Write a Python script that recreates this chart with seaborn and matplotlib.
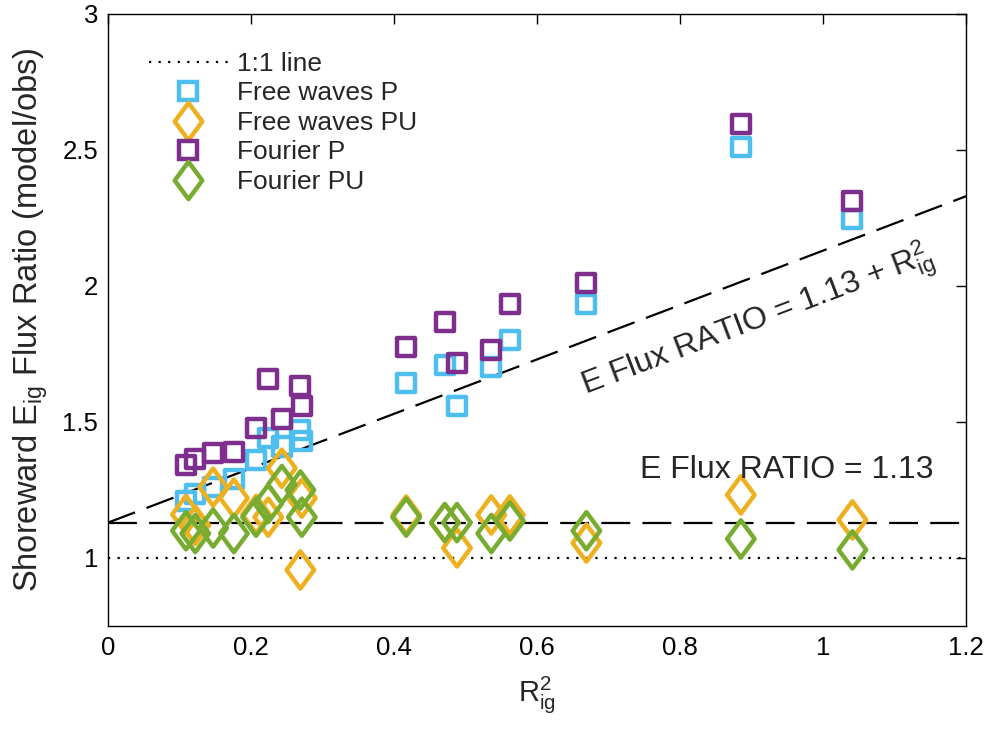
import matplotlib
matplotlib.use("Agg")
import matplotlib.pyplot as plt
import seaborn as sns
import numpy as np
from matplotlib.path import Path
from matplotlib.lines import Line2D

# ---- data ----
r2 = [0.109, 0.122, 0.147, 0.176, 0.207, 0.224, 0.243, 0.269, 0.271,
      0.417, 0.471, 0.488, 0.536, 0.562, 0.669, 0.885, 1.041]
free_p = [1.21, 1.235, 1.26, 1.29, 1.36, 1.44, 1.41, 1.47, 1.43,
          1.643, 1.710, 1.559, 1.702, 1.801, 1.934, 2.511, 2.246]
free_pu = [1.16, 1.12, 1.26, 1.22, 1.16, 1.15, 1.33, 0.956, 1.22,
           1.158, 1.129, 1.037, 1.158, 1.158, 1.055, 1.232, 1.140]
four_p = [1.342, 1.364, 1.386, 1.390, 1.478, 1.658, 1.511, 1.632, 1.559,
          1.776, 1.868, 1.717, 1.765, 1.934, 2.011, 2.596, 2.312]
four_pu = [1.10, 1.09, 1.11, 1.09, 1.15, 1.20, 1.27, 1.25, 1.15,
           1.15, 1.13, 1.13, 1.09, 1.136, 1.10, 1.07, 1.03]
const_ratio = 1.13
x_ticks = [0, 0.2, 0.4, 0.6, 0.8, 1.0, 1.2]
x_ticklabels = ["0", "0.2", "0.4", "0.6", "0.8", "1", "1.2"]
y_ticks = [1, 1.5, 2, 2.5, 3]
y_ticklabels = ["1", "1.5", "2", "2.5", "3"]

c_blue = "#4DBEEE"
c_orange = "#EDB120"
c_purple = "#7E2F8E"
c_green = "#77AC30"

sns.set_style("white")
plt.rcParams["font.family"] = ["Liberation Sans", "DejaVu Sans"]
plt.rcParams["mathtext.fontset"] = "custom"
plt.rcParams["mathtext.rm"] = "Liberation Sans"
plt.rcParams["mathtext.it"] = "Liberation Sans"

diamond = Path([(0, 0.5), (0.37, 0), (0, -0.5), (-0.37, 0), (0, 0.5)],
               [Path.MOVETO, Path.LINETO, Path.LINETO, Path.LINETO, Path.CLOSEPOLY])

fig = plt.figure(figsize=(9.92, 7.33), dpi=100)
ax = fig.add_axes([0.1089, 0.146, 0.865, 0.835])

dot = (1.0, 3.3)
dash = (13, 5.5)
# lines
ax.axhline(1.0, color="black", lw=1.6, dashes=dot)
ax.axhline(const_ratio, color="black", lw=1.6, dashes=dash)
xl = np.array([0, 1.2])
ax.plot(xl, const_ratio + xl, color="black", lw=1.6, dashes=dash)

sq_s = 170
dm_s = 720
lw = 3.2
sns.scatterplot(x=r2, y=free_p, marker="s", s=sq_s, fc="none", ec=c_blue, lw=lw, ax=ax, zorder=3)
sns.scatterplot(x=r2, y=free_pu, marker=diamond, s=dm_s, fc="none", ec=c_orange, lw=lw, ax=ax, zorder=3)
sns.scatterplot(x=r2, y=four_p, marker="s", s=sq_s, fc="none", ec=c_purple, lw=lw, ax=ax, zorder=3)
sns.scatterplot(x=r2, y=four_pu, marker=diamond, s=dm_s, fc="none", ec=c_green, lw=lw, ax=ax, zorder=3)

ax.set_xlim(0, 1.2)
ax.set_ylim(0.75, 3)
ax.set_xticks(x_ticks)
ax.set_xticklabels(x_ticklabels)
ax.set_yticks(y_ticks)
ax.set_yticklabels(y_ticklabels)
ax.tick_params(direction="in", length=7, width=1, labelsize=18.5, top=True, right=True,
               pad=7, colors="black")
for sp in ax.spines.values():
    sp.set_color("black")
    sp.set_linewidth(1.0)

ax.set_xlabel(r"R$_{ig}^{2}$", fontsize=21, labelpad=10)
ax.set_ylabel(r"Shoreward E$_{ig}$ Flux Ratio (model/obs)", fontsize=23.5, labelpad=9)

ax.text(0.744, 1.294, "E Flux RATIO = 1.13", fontsize=23, ha="left", va="baseline")
ang = np.degrees(np.arctan(272 / 715))
ax.text(0.668, 1.60, r"E Flux RATIO = 1.13 + R$_{ig}^{2}$", fontsize=23,
        rotation=ang, rotation_mode="anchor", ha="left", va="baseline")

ms_sq = np.sqrt(sq_s)
ms_dm = np.sqrt(dm_s)
handles = [
    Line2D([0], [0], color="black", lw=1.6, dashes=dot),
    Line2D([0], [0], ls="none", marker="s", ms=ms_sq, mfc="none", mec=c_blue, mew=lw),
    Line2D([0], [0], ls="none", marker=diamond, ms=ms_dm, mfc="none", mec=c_orange, mew=lw),
    Line2D([0], [0], ls="none", marker="s", ms=ms_sq, mfc="none", mec=c_purple, mew=lw),
    Line2D([0], [0], ls="none", marker=diamond, ms=ms_dm, mfc="none", mec=c_green, mew=lw),
]
labels = ["1:1 line", "Free waves P", "Free waves PU", "Fourier P", "Fourier PU"]
ax.legend(handles, labels, loc="upper left", bbox_to_anchor=(0.029, 0.964), frameon=False,
          fontsize=19, handlelength=3.0, handletextpad=0.35, labelspacing=0.21,
          borderaxespad=0.2)

fig.savefig("out.png", dpi=100)
